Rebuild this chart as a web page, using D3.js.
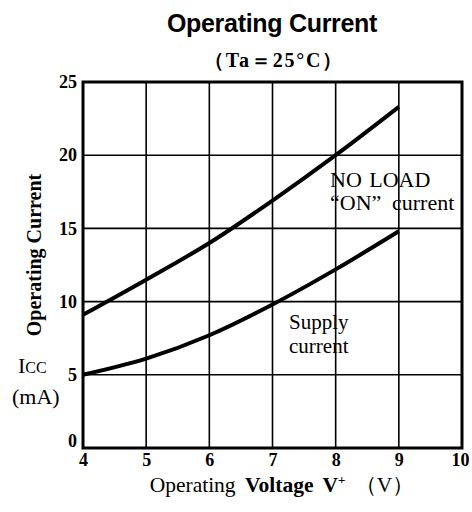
<!DOCTYPE html>
<html>
<head>
<meta charset="utf-8">
<script src="https://cdn.jsdelivr.net/npm/d3@7"></script>
<style>
  body { margin: 0; background: #fff; }
  svg { display: block; }
  .tick text { font-family: "Liberation Serif", serif; font-weight: bold; font-size: 18px; fill: #000; }
  .grid line { stroke: #000; stroke-width: 1.6; }
  .curve { fill: none; stroke: #000; stroke-width: 4; }
  .note { font-family: "Liberation Serif", serif; font-size: 22px; fill: #000; }
</style>
</head>
<body>
<script>
(function() {
  var width = 472;
  var height = 512;
  var margin = { top: 82, right: 10, bottom: 64, left: 83 };

  // tick values
  var xTicks = [4, 5, 6, 7, 8, 9, 10];
  var yTicks = [0, 5, 10, 15, 20, 25];

  // series (V+ in V, Icc in mA)
  var voltage = [4, 5, 6, 7, 8, 9];
  var noLoadCurrent = [9.1, 11.5, 14.0, 16.9, 20.0, 23.3];
  var supplyCurrent = [5.0, 6.1, 7.7, 9.8, 12.2, 14.8];

  var xScale = d3.scaleLinear().domain([4, 10]).range([margin.left, width - margin.right]);
  var yScale = d3.scaleLinear().domain([0, 25]).range([height - margin.bottom, margin.top]);

  var svg = d3.select('body')
    .append('svg')
    .attr('width', width)
    .attr('height', height);

  // titles
  svg.append('text')
    .attr('x', 272)
    .attr('y', 32)
    .attr('text-anchor', 'middle')
    .style('font-family', '"Liberation Sans", Arial, sans-serif')
    .style('font-weight', 'bold')
    .style('font-size', '25px')
    .style('letter-spacing', '-0.3px')
    .text('Operating Current');

  svg.append('text')
    .attr('x', 274)
    .attr('y', 67)
    .attr('text-anchor', 'middle')
    .style('font-family', '"Liberation Serif", serif')
    .style('font-weight', 'bold')
    .style('font-size', '20px')
    .style('letter-spacing', '1.8px')
    .text('（Ta＝25°C）');

  // grid
  var plotTop = yScale(25), plotBottom = yScale(0);
  var plotLeft = xScale(4), plotRight = xScale(10);

  svg.append('g')
    .attr('class', 'grid')
    .selectAll('line.v')
    .data(xTicks.slice(1, -1))
    .enter()
    .append('line')
    .attr('x1', d => xScale(d))
    .attr('x2', d => xScale(d))
    .attr('y1', plotTop)
    .attr('y2', plotBottom);

  svg.append('g')
    .attr('class', 'grid')
    .selectAll('line.h')
    .data(yTicks.slice(1, -1))
    .enter()
    .append('line')
    .attr('x1', plotLeft)
    .attr('x2', plotRight)
    .attr('y1', d => yScale(d))
    .attr('y2', d => yScale(d));

  svg.append('rect')
    .attr('x', plotLeft)
    .attr('y', plotTop)
    .attr('width', plotRight - plotLeft)
    .attr('height', plotBottom - plotTop)
    .attr('fill', 'none')
    .attr('stroke', '#000')
    .attr('stroke-width', 3);

  // axes (labels only, the frame is the rect)
  var xAxis = d3.axisBottom(xScale).tickValues(xTicks).tickFormat(d3.format('d'))
    .tickSize(0).tickPadding(5);
  svg.append('g')
    .attr('class', 'x axis')
    .attr('transform', `translate(0, ${plotBottom})`)
    .call(xAxis)
    .call(g => g.select('.domain').remove())
    .call(g => g.selectAll('.tick')
      .filter(d => d === 10)
      .select('text')
      .attr('dx', '-2'));

  var yAxis = d3.axisLeft(yScale).tickValues(yTicks).tickFormat(d3.format('d'))
    .tickSize(0).tickPadding(6);
  svg.append('g')
    .attr('class', 'y axis')
    .attr('transform', `translate(${plotLeft}, 0)`)
    .call(yAxis)
    .call(g => g.select('.domain').remove())
    .call(g => g.selectAll('.tick')
      .filter(d => d === 0)
      .select('text')
      .attr('dy', '-0.1em'));

  // curves
  var line = d3.line()
    .x((d, i) => xScale(voltage[i]))
    .y(d => yScale(d))
    .curve(d3.curveMonotoneX);

  svg.append('path')
    .datum(noLoadCurrent)
    .attr('class', 'curve')
    .attr('d', line);

  svg.append('path')
    .datum(supplyCurrent)
    .attr('class', 'curve')
    .attr('d', line);

  // curve notes
  svg.append('text').attr('class', 'note').attr('x', 330).attr('y', 187)
    .style('word-spacing', '2px').text('NO LOAD');
  var onNote = svg.append('text').attr('class', 'note').attr('y', 210);
  onNote.append('tspan').attr('x', 330).text('“ON”');
  onNote.append('tspan').attr('x', 392).text('current');
  svg.append('text').attr('class', 'note').attr('x', 289).attr('y', 329)
    .style('font-size', '21px').text('Supply');
  svg.append('text').attr('class', 'note').attr('x', 289).attr('y', 353)
    .style('font-size', '21px').text('current');

  // y axis title
  svg.append('text')
    .attr('transform', 'translate(41, 255) rotate(-90)')
    .attr('text-anchor', 'middle')
    .style('font-family', '"Liberation Serif", serif')
    .style('font-weight', 'bold')
    .style('font-size', '20px')
    .text('Operating Current');

  var unit = svg.append('text')
    .style('font-family', '"Liberation Serif", serif')
    .style('font-size', '22px');
  unit.append('tspan').attr('x', 18).attr('y', 373).text('I');
  unit.append('tspan').style('font-size', '16px').text('CC');
  svg.append('text')
    .attr('x', 12)
    .attr('y', 404)
    .style('font-family', '"Liberation Serif", serif')
    .style('font-size', '22px')
    .text('(mA)');

  // x axis title
  var xTitle = svg.append('text')
    .attr('x', 282)
    .attr('y', 492)
    .attr('text-anchor', 'middle')
    .style('font-family', '"Liberation Serif", serif')
    .style('font-size', '21.5px')
    .style('word-spacing', '4px');
  xTitle.append('tspan').text('Operating ');
  xTitle.append('tspan').style('font-weight', 'bold').text('Voltage V');
  xTitle.append('tspan').style('font-weight', 'bold').style('font-size', '13px')
    .attr('dy', '-8').text('+');
  xTitle.append('tspan').attr('dy', '8').text(' （V）');
})();
</script>
</body>
</html>
